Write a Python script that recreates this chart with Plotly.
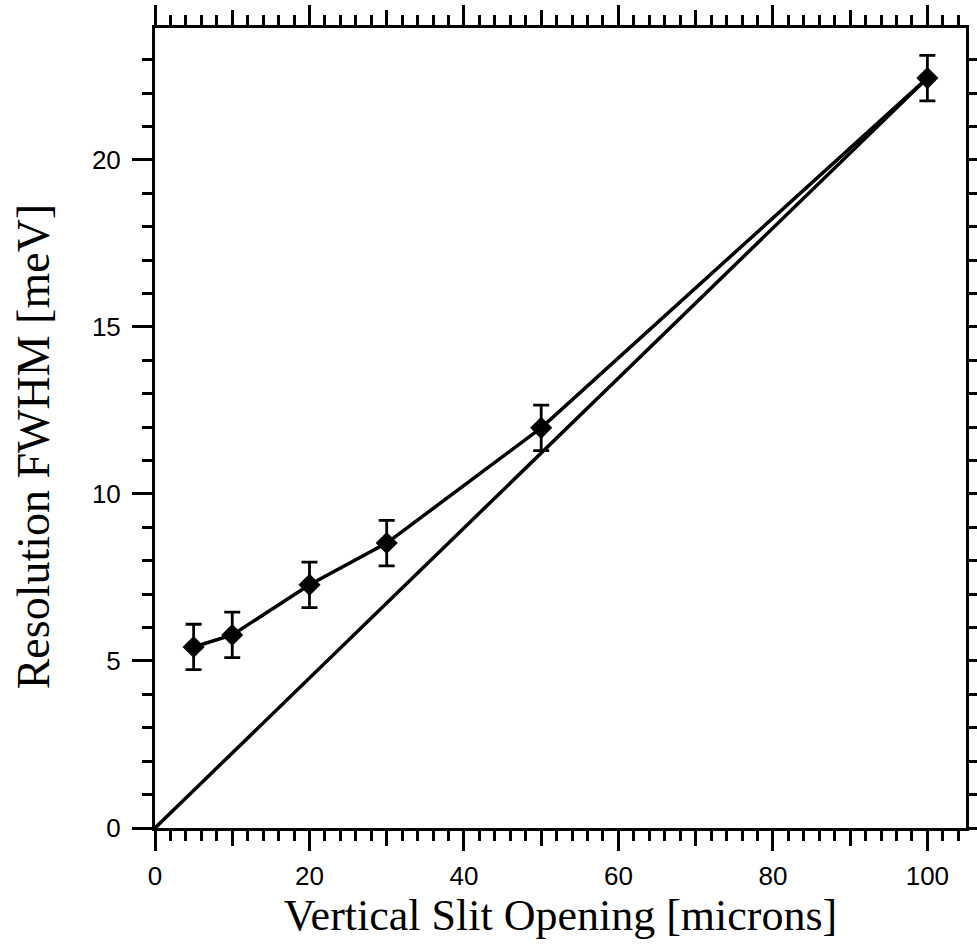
import plotly.graph_objects as go

# Data
slit = [5, 10, 20, 30, 50, 100]
fwhm = [5.42, 5.78, 7.28, 8.53, 11.98, 22.45]
err = [0.68, 0.68, 0.68, 0.68, 0.68, 0.68]
line_x = [0, 100]
line_y = [0, 22.45]

x_major = [0, 20, 40, 60, 80, 100]
x_mid = [10, 30, 50, 70, 90]
y_major = [0, 5, 10, 15, 20]

fig = go.Figure()

fig.add_trace(go.Scatter(
    x=line_x, y=line_y, mode="lines",
    line=dict(color="black", width=3.5),
    xaxis="x2", showlegend=False, hoverinfo="skip"))

fig.add_trace(go.Scatter(
    x=slit, y=fwhm, mode="lines+markers",
    line=dict(color="black", width=3.5),
    marker=dict(symbol="diamond", size=17, color="black"),
    error_y=dict(type="data", array=err, color="black", thickness=2.8, width=8),
    showlegend=False))

tick_font = dict(family="Liberation Sans, Arial, sans-serif", size=26, color="black")
xtitle_font = dict(family="Liberation Serif, Times New Roman, serif", size=44, color="black")
ytitle_font = dict(family="Liberation Serif, Times New Roman, serif", size=46, color="black")

fig.update_layout(
    width=977, height=952,
    margin=dict(l=155, r=11, t=28, b=124),
    paper_bgcolor="white", plot_bgcolor="white",
    xaxis=dict(
        range=[0, 105], tickvals=x_major, ticktext=[str(v) for v in x_major],
        ticks="outside", ticklen=20, tickwidth=2.5, tickcolor="black",
        showline=True, linecolor="black", linewidth=3, mirror="ticks",
        showgrid=False, zeroline=False, tickfont=tick_font, automargin=False,
        ticklabelstandoff=3,
        minor=dict(dtick=2, ticks="outside", ticklen=10, tickwidth=2.5, tickcolor="black", showgrid=False),
        title=dict(text="Vertical Slit Opening [microns]", font=xtitle_font, standoff=6),
    ),
    xaxis2=dict(
        range=[0, 105], overlaying="x", anchor="y", side="bottom",
        tickvals=x_mid, showticklabels=False, automargin=False,
        ticks="outside", ticklen=15, tickwidth=2.5, tickcolor="black",
        showline=True, linecolor="black", linewidth=3, mirror="ticks",
        showgrid=False, zeroline=False,
    ),
    yaxis=dict(
        range=[0, 23.95], tickvals=y_major, ticktext=[str(v) for v in y_major],
        ticks="outside", ticklen=20, tickwidth=2.5, tickcolor="black",
        showline=True, linecolor="black", linewidth=3, mirror="ticks",
        showgrid=False, zeroline=False, tickfont=tick_font, automargin=False,
        ticklabelstandoff=6,
        minor=dict(dtick=1, ticks="outside", ticklen=10, tickwidth=2.5, tickcolor="black", showgrid=False),
    ),
    annotations=[dict(
        text="Resolution FWHM [meV]", textangle=-90, font=ytitle_font,
        xref="paper", yref="paper", x=-0.150, y=0.4775,
        xanchor="center", yanchor="middle", showarrow=False,
    )],
)

fig.write_html("out.html")
